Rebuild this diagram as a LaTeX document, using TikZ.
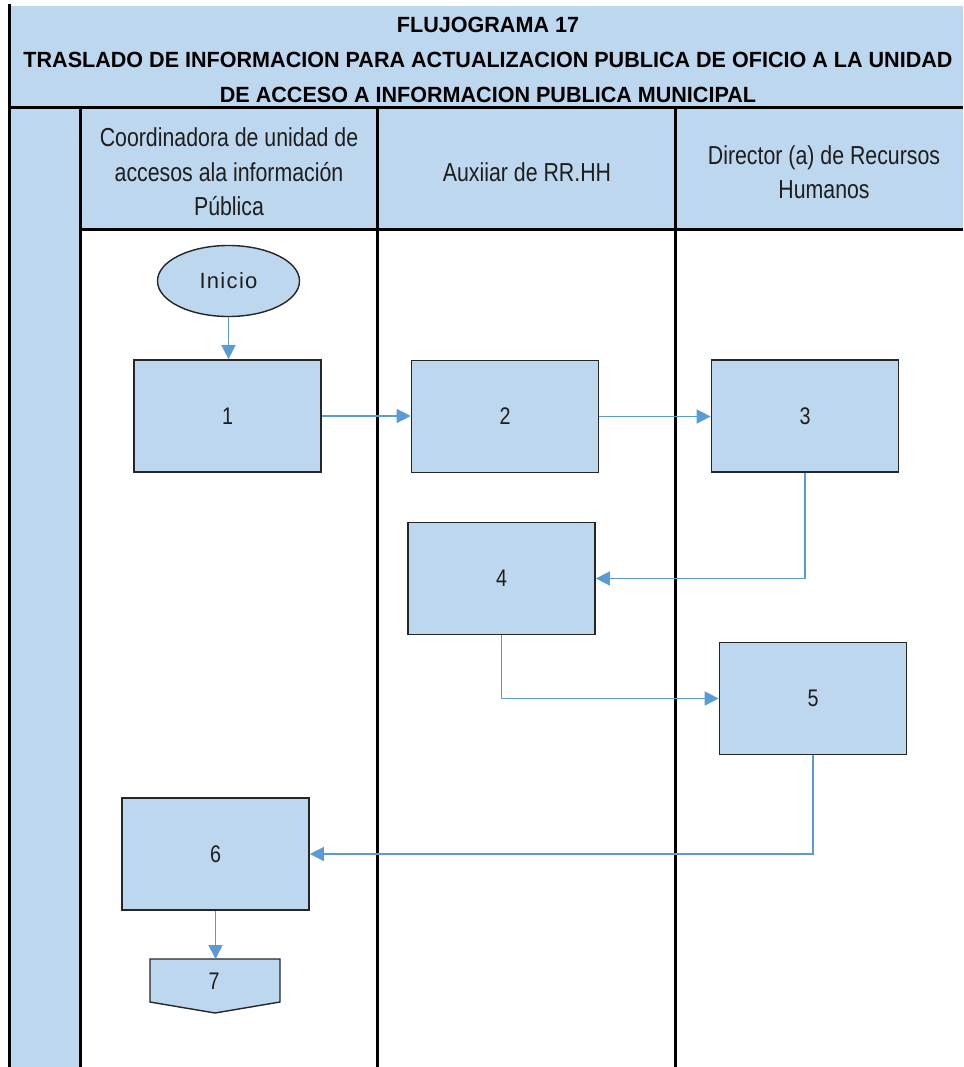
\documentclass[tikz,border=0pt]{standalone}
\usepackage{fontspec}
\setmainfont{Liberation Sans}
\newfontfamily\narrowfont[FakeStretch=0.82]{Liberation Sans}
\newfontfamily\titlefont[FakeStretch=0.98]{Liberation Sans}
\newfontfamily\spacedfont[LetterSpace=6]{Liberation Sans}
\usetikzlibrary{shapes.geometric,arrows.meta}
\definecolor{paleblue}{RGB}{189,215,238}
\definecolor{flowblue}{RGB}{91,155,213}
\definecolor{edgegray}{RGB}{38,38,38}
\definecolor{textgray}{RGB}{30,30,30}
\tikzset{
  laneline/.style={line width=3pt,black},
  procbox/.style={draw=edgegray,fill=paleblue,line width=1.7pt,
    minimum width=187pt,minimum height=112pt,inner sep=0pt,
    font=\narrowfont\fontsize{24}{26}\selectfont,text=textgray},
  startnode/.style={ellipse,draw=edgegray,fill=paleblue,line width=1.4pt,
    minimum width=142pt,minimum height=71pt,inner sep=0pt,
    font=\spacedfont\fontsize{22}{26}\selectfont,text=textgray},
  lanetitle/.style={align=center,text=textgray,inner sep=0pt,
    font=\narrowfont\fontsize{26}{34.5}\selectfont},
  flow/.style={draw=flowblue,line width=1.5pt,
    -{Triangle[length=14pt,width=14pt]}}
}
\begin{document}
\begin{tikzpicture}[x=1pt,y=-1pt]
\useasboundingbox (0,0) rectangle (963,1067);

% background bands: title, lane strip, lane headers
\fill[paleblue] (9,6) rectangle (963,108);
\fill[paleblue] (9,108) rectangle (80,1067);
\fill[paleblue] (80,108) rectangle (963,230);

% frame and swimlane dividers
\draw[laneline] (9,4) -- (9,1067);
\draw[laneline] (9,108) -- (963,108);
\draw[laneline] (80,230) -- (963,230);
\draw[laneline] (80,108) -- (80,1067);
\draw[laneline] (377,108) -- (377,1067);
\draw[laneline] (675,108) -- (675,1067);

% title
\node[align=center,inner sep=0pt,
  font=\titlefont\bfseries\fontsize{22}{35}\selectfont] (title) at (488,59.5)
  {FLUJOGRAMA 17\\
   TRASLADO DE INFORMACION PARA ACTUALIZACION PUBLICA DE OFICIO A LA UNIDAD\\
   DE ACCESO A INFORMACION PUBLICA MUNICIPAL};

% lane headers
\node[lanetitle] (lane1) at (229,172)
  {Coordinadora de unidad de\\accesos ala información\\Pública};
\node[lanetitle] (lane2) at (527,172) {Auxiiar de RR.HH};
\node[lanetitle] (lane3) at (824,172) {Director (a) de Recursos\\Humanos};

% process steps
\node[startnode] (ini) at (228.5,281) {Inicio};
\node[procbox] (b1) at (227.5,416) {1};
\node[procbox] (b2) at (505,416.5) {2};
\node[procbox] (b3) at (805,416) {3};
\node[procbox] (b4) at (501.5,578.5) {4};
\node[procbox] (b5) at (813,698.5) {5};
\node[procbox] (b6) at (215.5,854) {6};

% off-page connector 7
\coordinate (c7) at (215.5,959);
\draw[draw=edgegray,fill=paleblue,line width=1.4pt]
  (150,959) -- (280,959) -- (280,1002) -- (215,1013) -- (150,1002) -- cycle;
\node[inner sep=0pt,text=textgray,font=\narrowfont\fontsize{24}{26}\selectfont]
  (n7) at (214,981) {7};

% connectors
\draw[flow] (ini.south) -- (ini.south |- b1.north);
\draw[flow] (b1.east) -- (b2.west |- b1.east);
\draw[flow] (b2.east) -- (b3.west |- b2.east);
\draw[flow] (b3.south) |- (b4.east);
\draw[flow] (b4.south) |- (b5.west);
\draw[flow] (b5.south) |- (b6.east);
\draw[flow] (b6.south) -- (c7);
\end{tikzpicture}
\end{document}
